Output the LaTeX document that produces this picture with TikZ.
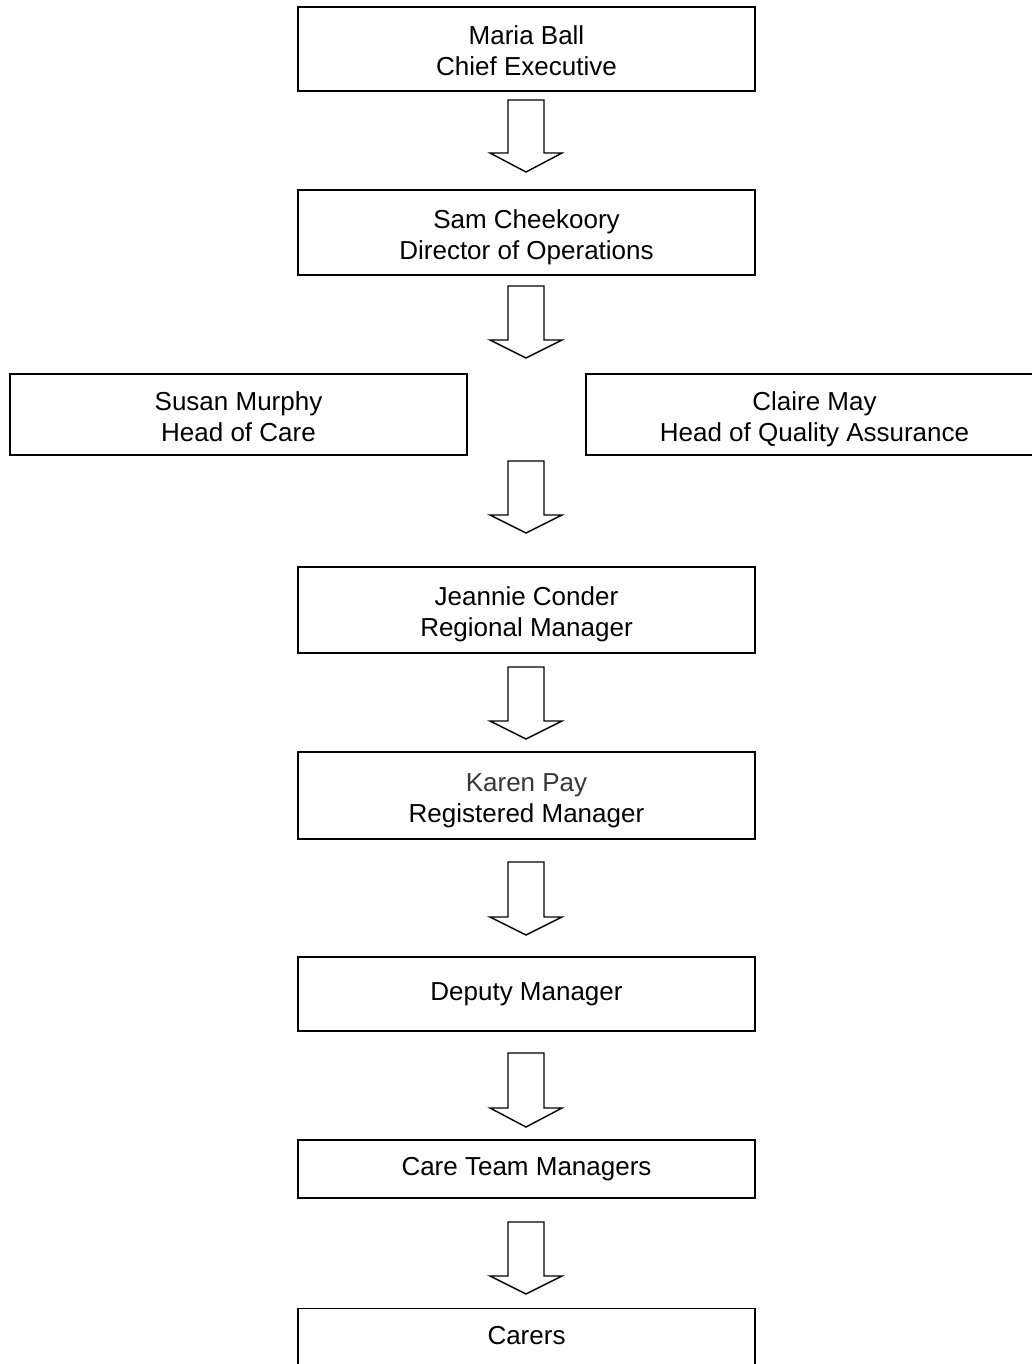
\documentclass[tikz,border=0pt]{standalone}
\usepackage{fontspec}
\setmainfont{Liberation Sans}
\definecolor{namegray}{RGB}{55,55,55}
\tikzset{
	box/.style={draw, line width=.7pt, minimum width=228.5pt, inner sep=0pt, align=center, font=\fontsize{13}{15.5}\selectfont},
	twoline/.style={text height=26.9pt, text depth=0pt},
	blockarrow/.style={draw, line width=.7pt, line join=miter, fill=white}
}
\begin{document}
\begin{tikzpicture}[x=.5pt, y=-.5pt]
		\clip(0, 0) rectangle (1032, 1364);
		\node[box, twoline, minimum height=42pt] (boss) at(526.5, 49){Maria Ball\\Chief Executive};
			\draw[blockarrow](508, 100) -- (544, 100) -- (544, 153) -- (562, 153) -- (526, 172) -- (490, 153) -- (508, 153) -- cycle;
		\node[box, twoline, minimum height=42.5pt] (ops) at(526.5, 232.5){Sam Cheekoory\\Director of Operations};
			\draw[blockarrow](508, 286) -- (544, 286) -- (544, 340) -- (562, 340) -- (526, 358) -- (490, 340) -- (508, 340) -- cycle;

		\node[box, twoline, minimum height=40.5pt] (care) at(238.5, 414.5){Susan Murphy\\Head of Care};
		\node[box, twoline, minimum height=40.5pt] (quality) at(814.5, 414.5){Claire May\\Head of Quality Assurance};
			\draw[blockarrow](508, 461) -- (544, 461) -- (544, 515) -- (562, 515) -- (526, 533) -- (490, 515) -- (508, 515) -- cycle;

		\node[box, twoline, minimum height=43pt] (regional) at(526.5, 610){Jeannie Conder\\Regional Manager};
			\draw[blockarrow](508, 667) -- (544, 667) -- (544, 721) -- (562, 721) -- (526, 739) -- (490, 721) -- (508, 721) -- cycle;
		\node[box, twoline, minimum height=43.5pt] (registered) at(526.5, 795.5){{\color{namegray}Karen Pay}\\Registered Manager};
			\draw[blockarrow](508, 862) -- (544, 862) -- (544, 917) -- (562, 917) -- (526, 935) -- (490, 917) -- (508, 917) -- cycle;
		\node[box, minimum height=37pt] (deputy) at(526.5, 994){Deputy Manager};
			\draw[blockarrow](508, 1053) -- (544, 1053) -- (544, 1108) -- (562, 1108) -- (526, 1127) -- (490, 1108) -- (508, 1108) -- cycle;
		\node[box, minimum height=29pt] (teamman) at(526.5, 1169){Care Team Managers};
			\draw[blockarrow](508, 1222) -- (544, 1222) -- (544, 1276) -- (562, 1276) -- (526, 1294) -- (490, 1276) -- (508, 1276) -- cycle;
		% box runs past the bottom edge
		\node[box, anchor=north, inner ysep=5pt, text height=13pt, text depth=30pt] (carers) at(526.5, 1308){Carers};
	\end{tikzpicture}
\end{document}
